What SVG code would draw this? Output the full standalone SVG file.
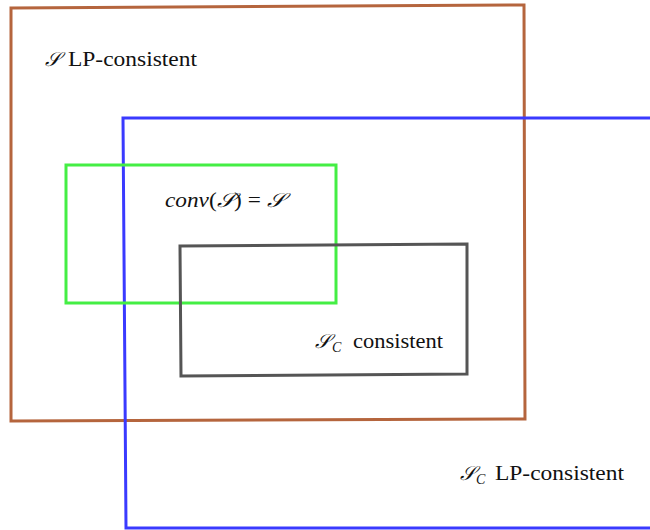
<svg xmlns="http://www.w3.org/2000/svg" width="650" height="530" viewBox="0 0 650 530">
<style>
.box{fill:none;stroke-linejoin:miter}
.lp{stroke:#b5653d;stroke-width:3}
.blue{stroke:#3a3aff;stroke-width:3}
.green{stroke:#44ee44;stroke-width:3}
.gray{stroke:#555555;stroke-width:3}
text{font-family:"Liberation Serif","DejaVu Serif",serif;font-size:20px;fill:#111}
.m{font-style:italic}
.sub{font-size:14px;font-style:italic}
</style>
<rect width="650" height="530" fill="#ffffff"/>
<g id="s-lp">
<polygon class="box lp" points="11,8 524,5 525,419 11,421"/>
<text x="45" y="66" class="m">𝒮</text>
<text x="68" y="66" textLength="129" lengthAdjust="spacingAndGlyphs">LP-consistent</text>
</g>
<g id="sc-lp">
<polyline class="box blue" points="652,118 123,118 126,528 652,528"/>
<text x="460" y="480" class="m">𝒮</text>
<text x="476" y="484" class="sub">C</text>
<text x="495" y="480" textLength="129" lengthAdjust="spacingAndGlyphs">LP-consistent</text>
</g>
<g id="conv">
<rect class="box green" x="66" y="165" width="270" height="138"/>
<text x="165" y="207" textLength="119" lengthAdjust="spacingAndGlyphs"><tspan class="m">conv</tspan>(<tspan class="m">𝒮</tspan>) = <tspan class="m">𝒮</tspan></text>
</g>
<g id="sc-cons">
<polygon class="box gray" points="180,246 467,244 467,374 181,376"/>
<text x="315" y="348" class="m">𝒮</text>
<text x="332" y="352" class="sub">C</text>
<text x="353" y="348" textLength="90" lengthAdjust="spacingAndGlyphs">consistent</text>
</g>
<g id="connectors"></g>
</svg>
